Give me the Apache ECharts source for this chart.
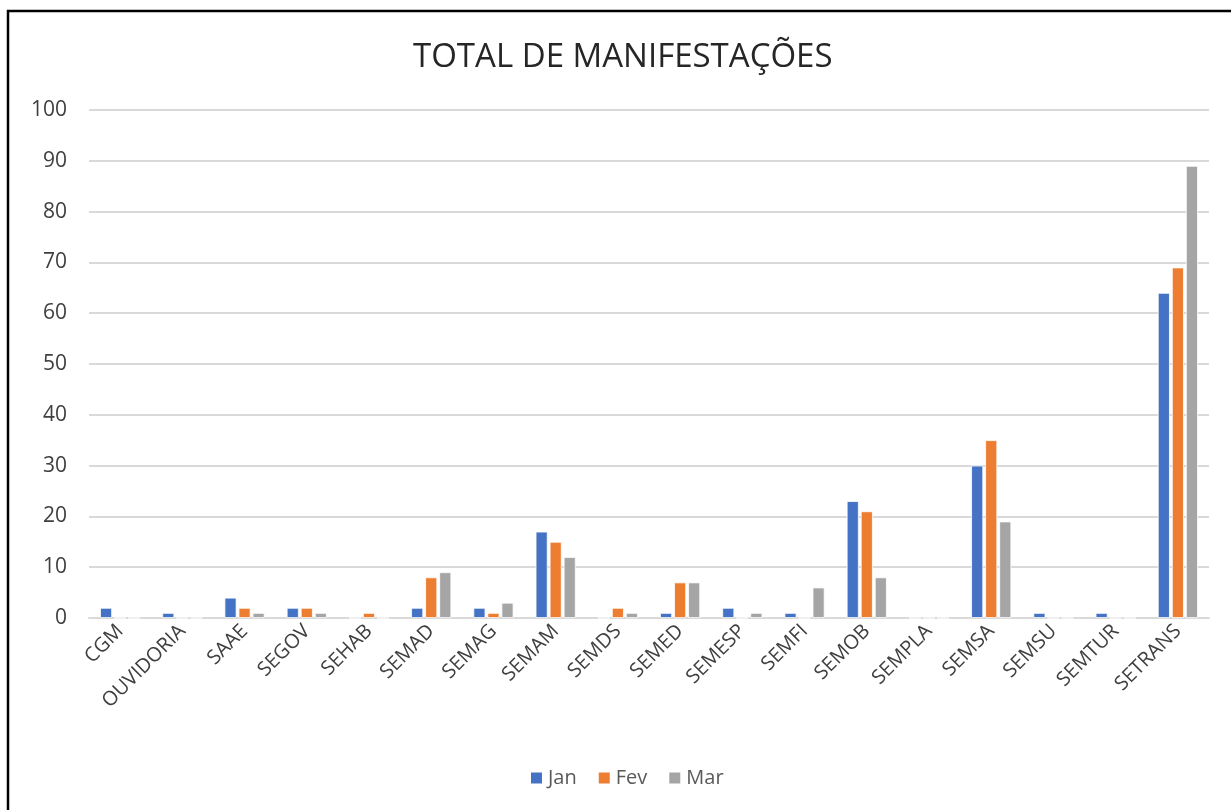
<!DOCTYPE html>
<html>
<head>
<meta charset="utf-8">
<script src="https://cdn.jsdelivr.net/npm/echarts@6/dist/echarts.min.js"></script>
<style>
html,body{margin:0;padding:0;background:#fff;}
#chart{width:1231px;height:810px;}
</style>
</head>
<body>
<div id="chart"></div>
<script>
const categories = ["CGM","OUVIDORIA","SAAE","SEGOV","SEHAB","SEMAD","SEMAG","SEMAM","SEMDS","SEMED","SEMESP","SEMFI","SEMOB","SEMPLA","SEMSA","SEMSU","SEMTUR","SETRANS"];
const jan = [2,1,4,2,0,2,2,17,0,1,2,1,23,0,30,1,1,64];
const fev = [0,0,2,2,1,8,1,15,2,7,0,0,21,0,35,0,0,69];
const mar = [0,0,1,1,0,9,3,12,1,7,1,6,8,0,19,0,0,89];
const seriesNames = ["Jan","Fev","Mar"];
const colors = ["#4472C4","#ED7D31","#A5A5A5"];
const titleText = "TOTAL DE MANIFESTAÇÕES";

const font = "'Open Sans', 'Liberation Sans', sans-serif";
const chart = echarts.init(document.getElementById('chart'));
const mk = (name, data, i) => ({
  name, type: 'bar', data,
  barWidth: 12, barGap: '17%',
  itemStyle: { color: colors[i], borderColor: '#ffffff', borderWidth: 0.8 },
  emphasis: { disabled: true }
});
chart.setOption({
  animation: false,
  color: colors,
  title: {
    text: titleText, left: 413, top: 41, padding: 0,
    textStyle: { fontFamily: font, fontSize: 33, fontWeight: 'normal', color: '#262626' }
  },
  legend: {
    data: seriesNames, bottom: 17, left: 524,
    itemWidth: 13, itemHeight: 13, itemGap: 20,
    icon: 'rect',
    textStyle: { fontFamily: font, fontSize: 20, color: '#595959' }
  },
  grid: { left: 89, right: 22, top: 110, bottom: 192, containLabel: false },
  xAxis: {
    type: 'category', data: categories,
    axisLine: { lineStyle: { color: '#d9d9d9', width: 2 } },
    axisTick: { show: false },
    axisLabel: { rotate: 45, interval: 0, margin: 10, fontFamily: font, fontSize: 20, color: '#404040' }
  },
  yAxis: {
    type: 'value', min: 0, max: 100, interval: 10,
    axisLine: { show: false }, axisTick: { show: false },
    splitLine: { lineStyle: { color: '#d9d9d9', width: 2 } },
    axisLabel: { margin: 22, fontFamily: font, fontSize: 21, color: '#404040' }
  },
  graphic: [{
    type: 'rect', shape: { x: 8, y: 11, width: 1260, height: 840 },
    style: { fill: 'none', stroke: '#000', lineWidth: 2.5 }, silent: true
  }],
  series: [mk(seriesNames[0], jan, 0), mk(seriesNames[1], fev, 1), mk(seriesNames[2], mar, 2)]
});
</script>
</body>
</html>
